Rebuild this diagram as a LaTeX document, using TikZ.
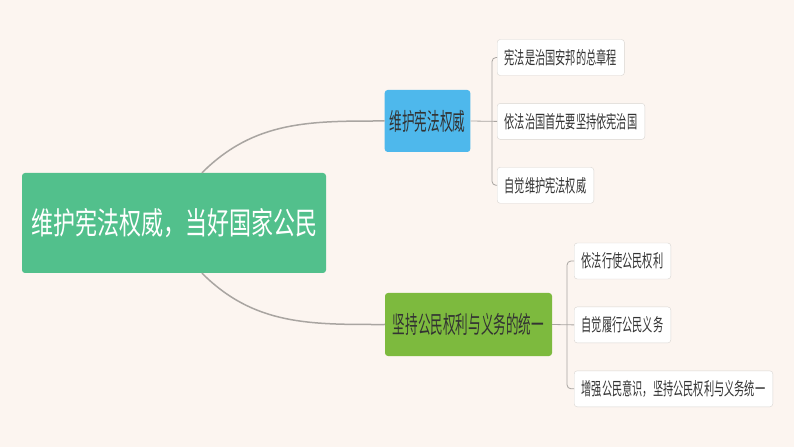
\documentclass[tikz,border=0pt]{standalone}
\usepackage{graphicx}
\usepackage{fontspec}
\setmainfont{Noto Sans CJK SC}
\usetikzlibrary{positioning}

\definecolor{bgcream}{HTML}{FCF5F0}
\definecolor{rootgreen}{HTML}{52C08C}
\definecolor{topicblue}{HTML}{4EB8EC}
\definecolor{topicgreen}{HTML}{7DBA3E}
\definecolor{linegray}{HTML}{A9A5A1}
\definecolor{leafline}{HTML}{D9D5D1}
\definecolor{textgray}{HTML}{333333}

% taller glyphs, as in the reference
\newcommand{\tallify}[2]{\scalebox{1}[#1]{#2}}

\begin{document}
\begin{tikzpicture}[x=1pt, y=1pt]
            \tikzstyle{leaf_node}=[rectangle, draw=leafline, fill=white, rounded corners=3pt, minimum height=36pt, inner xsep=7.5pt, text=textgray, font=\fontsize{10.2pt}{12pt}\selectfont];
            \tikzstyle{topic_node}=[rectangle, rounded corners=3pt, minimum height=62pt, inner xsep=5pt, text=textgray, font=\fontsize{12.6pt}{15pt}\selectfont];
            \tikzstyle{branch}=[draw=linegray, line width=1.5pt];
            \tikzstyle{twig}=[draw=linegray, line width=0.8pt, rounded corners=4pt];

            % background
            \fill[bgcream] (0,0) rectangle (794,447);

            % root
            \node(root) [rectangle, fill=rootgreen, rounded corners=3pt, minimum width=304pt, minimum height=100pt, text=white, font=\fontsize{22pt}{26pt}\selectfont] at (174,224) {\tallify{1.4}{维护宪法权威，当好国家公民}};

            % topics
            \node(guard) [topic_node, fill=topicblue, minimum width=85pt] at (427.5,326) {\tallify{1.9}{维护宪法权威}};
            \node(unity) [topic_node, fill=topicgreen, minimum width=167pt, minimum height=63pt] at (468.5,122.5) {\tallify{1.9}{坚持公民权利与义务的统一}};

            % leaves of guard
            \node(charter) [leaf_node, anchor=west] at (497,389.5) {\tallify{1.75}{宪法是治国安邦的总章程}};
            \node(rule) [leaf_node, below right = 27.5pt and 0pt of charter.south west] {\tallify{1.75}{依法治国首先要坚持依宪治国}};
            \node(uphold) [leaf_node, below right = 27.5pt and 0pt of rule.south west] {\tallify{1.75}{自觉维护宪法权威}};

            % leaves of unity
            \node(rights) [leaf_node, anchor=west] at (574,186) {\tallify{1.75}{依法行使公民权利}};
            \node(duties) [leaf_node, below right = 27.5pt and 0pt of rights.south west] {\tallify{1.75}{自觉履行公民义务}};
            \node(aware) [leaf_node, below right = 27.5pt and 0pt of duties.south west] {\tallify{1.75}{增强公民意识，坚持公民权利与义务统一}};

            % branches
            \draw[branch] ([xshift=28pt]root.north) to[out=45, in=180] (guard.west);
            \draw[branch] ([xshift=28pt]root.south) to[out=-45, in=180] (unity.west);

            % twigs
            \coordinate(guard_bus) at ([xshift=-5pt]rule.west);
            \draw[twig] (guard.east) -- (rule.west);
            \draw[twig] (charter.west) -| (guard_bus) |- (uphold.west);
            \coordinate(unity_bus) at ([xshift=-7pt]duties.west);
            \draw[twig] (unity.east) -- (duties.west);
            \draw[twig] (rights.west) -| (unity_bus) |- (aware.west);
        \end{tikzpicture}
\end{document}
